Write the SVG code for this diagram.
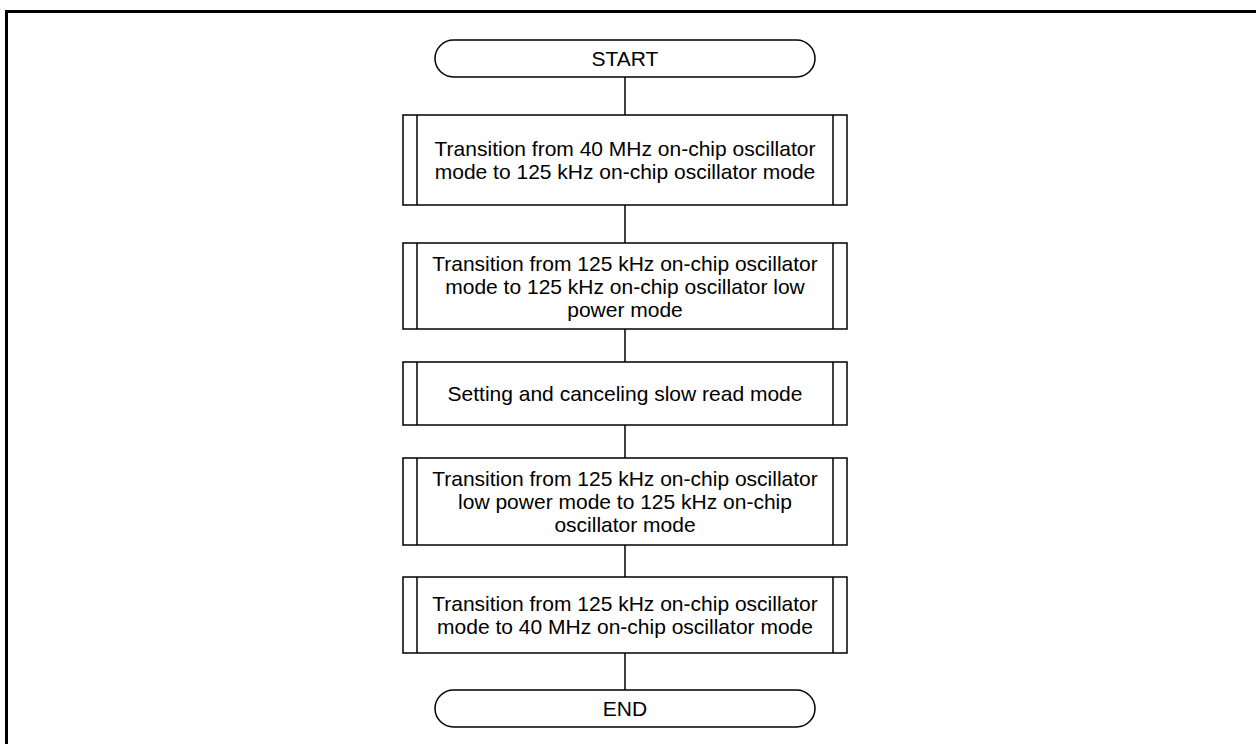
<svg xmlns="http://www.w3.org/2000/svg" width="1256" height="744" viewBox="0 0 1256 744">
<style>
.frame{fill:none;stroke:#000;stroke-width:3}
.shape{fill:#fff;stroke:#000;stroke-width:1.5}
.sub{fill:none;stroke:#000;stroke-width:1.5}
.conn{fill:none;stroke:#000;stroke-width:1.5}
text{font-family:"Liberation Sans",Arial,sans-serif;font-size:21px;fill:#000;text-anchor:middle}
</style>
<rect width="1256" height="744" fill="#fff"/>
<path class="frame" d="M6.5,744 V11.5 H1256"/>
<g id="connectors">
<line class="conn" x1="625" y1="77" x2="625" y2="115"/>
<line class="conn" x1="625" y1="205" x2="625" y2="243"/>
<line class="conn" x1="625" y1="329" x2="625" y2="362"/>
<line class="conn" x1="625" y1="425" x2="625" y2="458"/>
<line class="conn" x1="625" y1="545" x2="625" y2="577"/>
<line class="conn" x1="625" y1="653" x2="625" y2="690"/>
</g>
<g id="start">
<rect class="shape" x="435" y="40" width="380" height="37" rx="18.5" ry="18.5"/>
<text x="625" y="66">START</text>
</g>
<g id="p1">
<rect class="shape" x="403" y="115" width="444" height="90"/>
<line class="sub" x1="417" y1="115" x2="417" y2="205"/>
<line class="sub" x1="833" y1="115" x2="833" y2="205"/>
<text x="625" y="156">Transition from 40 MHz on-chip oscillator</text>
<text x="625" y="179">mode to 125 kHz on-chip oscillator mode</text>
</g>
<g id="p2">
<rect class="shape" x="403" y="243" width="444" height="86"/>
<line class="sub" x1="417" y1="243" x2="417" y2="329"/>
<line class="sub" x1="833" y1="243" x2="833" y2="329"/>
<text x="625" y="271">Transition from 125 kHz on-chip oscillator</text>
<text x="625" y="294">mode to 125 kHz on-chip oscillator low</text>
<text x="625" y="317">power mode</text>
</g>
<g id="p3">
<rect class="shape" x="403" y="362" width="444" height="63"/>
<line class="sub" x1="417" y1="362" x2="417" y2="425"/>
<line class="sub" x1="833" y1="362" x2="833" y2="425"/>
<text x="625" y="401">Setting and canceling slow read mode</text>
</g>
<g id="p4">
<rect class="shape" x="403" y="458" width="444" height="87"/>
<line class="sub" x1="417" y1="458" x2="417" y2="545"/>
<line class="sub" x1="833" y1="458" x2="833" y2="545"/>
<text x="625" y="486">Transition from 125 kHz on-chip oscillator</text>
<text x="625" y="509">low power mode to 125 kHz on-chip</text>
<text x="625" y="532">oscillator mode</text>
</g>
<g id="p5">
<rect class="shape" x="403" y="577" width="444" height="76"/>
<line class="sub" x1="417" y1="577" x2="417" y2="653"/>
<line class="sub" x1="833" y1="577" x2="833" y2="653"/>
<text x="625" y="611">Transition from 125 kHz on-chip oscillator</text>
<text x="625" y="634">mode to 40 MHz on-chip oscillator mode</text>
</g>
<g id="end">
<rect class="shape" x="435" y="690" width="380" height="37" rx="18.5" ry="18.5"/>
<text x="625" y="716">END</text>
</g>
</svg>
